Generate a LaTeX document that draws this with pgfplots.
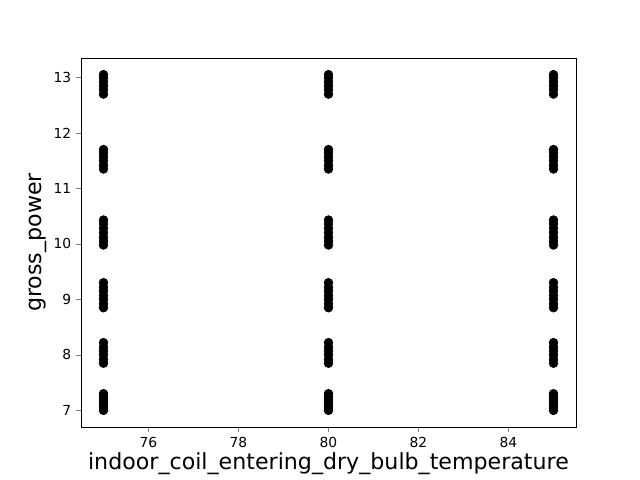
\documentclass[border=0pt]{standalone}
\usepackage{fontspec}
\setmainfont{DejaVu Sans}
\usepackage{pgfplots}
\pgfplotsset{compat=1.18}
\begin{document}
\begin{tikzpicture}
\begin{axis}[
  scale only axis, width=4.95in, height=3.69in,
  xmin=74.5, xmax=85.5, ymin=6.7, ymax=13.35,
  xtick={76,78,80,82,84}, ytick={7,8,9,10,11,12,13},
  tick align=outside, tick pos=left,
  major tick length=3.5pt,
  tick label style={font=\fontsize{10}{12}\selectfont},
  /pgf/number format/assume math mode=true,
  label style={font=\fontsize{16}{19}\selectfont},
  xlabel={indoor\_coil\_entering\_dry\_bulb\_temperature},
  ylabel={gross\_power},
  xlabel style={yshift=3pt},
  ylabel style={yshift=-2pt},
  clip=false,
  axis line style={line width=0.6pt},
]
\addplot[only marks, mark=*, mark size=3.2pt, black] table {
x y
75 7.00
75 7.05
75 7.10
75 7.15
75 7.20
75 7.25
75 7.30
75 7.85
75 7.92
75 8.00
75 8.07
75 8.14
75 8.22
75 8.85
75 8.92
75 9.00
75 9.07
75 9.15
75 9.22
75 9.30
75 9.98
75 10.05
75 10.12
75 10.20
75 10.28
75 10.36
75 10.43
75 11.35
75 11.42
75 11.50
75 11.57
75 11.64
75 11.70
75 12.70
75 12.78
75 12.85
75 12.92
75 12.99
75 13.05
80 7.00
80 7.05
80 7.10
80 7.15
80 7.20
80 7.25
80 7.30
80 7.85
80 7.92
80 8.00
80 8.07
80 8.14
80 8.22
80 8.85
80 8.92
80 9.00
80 9.07
80 9.15
80 9.22
80 9.30
80 9.98
80 10.05
80 10.12
80 10.20
80 10.28
80 10.36
80 10.43
80 11.35
80 11.42
80 11.50
80 11.57
80 11.64
80 11.70
80 12.70
80 12.78
80 12.85
80 12.92
80 12.99
80 13.05
85 7.00
85 7.05
85 7.10
85 7.15
85 7.20
85 7.25
85 7.30
85 7.85
85 7.92
85 8.00
85 8.07
85 8.14
85 8.22
85 8.85
85 8.92
85 9.00
85 9.07
85 9.15
85 9.22
85 9.30
85 9.98
85 10.05
85 10.12
85 10.20
85 10.28
85 10.36
85 10.43
85 11.35
85 11.42
85 11.50
85 11.57
85 11.64
85 11.70
85 12.70
85 12.78
85 12.85
85 12.92
85 12.99
85 13.05
};
\path (rel axis cs:-0.1636,-0.1436) rectangle (rel axis cs:1.1293,1.1572);
\end{axis}
\end{tikzpicture}
\end{document}
